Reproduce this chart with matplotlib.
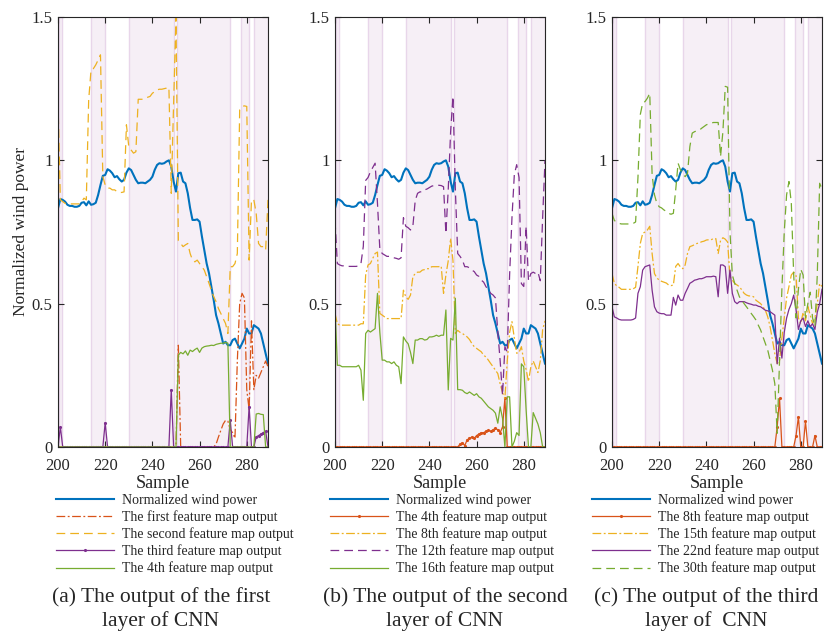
import numpy as np
import matplotlib
matplotlib.use("Agg")
import matplotlib.pyplot as plt

plt.rcParams['font.family'] = ['Liberation Serif', 'DejaVu Serif']

samples = np.arange(200, 290)

wind = [0.833, 0.865, 0.862, 0.856, 0.845, 0.841, 0.841, 0.838, 0.838, 0.841,
        0.852, 0.854, 0.843, 0.857, 0.845, 0.847, 0.852, 0.879, 0.914, 0.946,
        0.949, 0.969, 0.964, 0.955, 0.941, 0.945, 0.934, 0.926, 0.932, 0.957,
        0.972, 0.966, 0.949, 0.932, 0.920, 0.922, 0.922, 0.920, 0.926, 0.932,
        0.943, 0.967, 0.984, 0.990, 0.988, 0.990, 0.996, 1.000, 0.978, 0.926,
        0.891, 0.955, 0.957, 0.926, 0.920, 0.885, 0.833, 0.792, 0.792, 0.794,
        0.786, 0.734, 0.687, 0.640, 0.606, 0.559, 0.512, 0.460, 0.431, 0.396,
        0.361, 0.367, 0.355, 0.355, 0.373, 0.378, 0.361, 0.344, 0.361, 0.378,
        0.413, 0.396, 0.396, 0.425, 0.419, 0.413, 0.396, 0.361, 0.326, 0.291]

# (a) first layer
a_first = [0]*51 + [0.355] + [0]*15 + [0.010, 0.035, 0.058,
           0.080, 0.093, 0.090, 0.060, 0.050, 0.030, 0.300, 0.500, 0.536, 0.520,
           0.200, 0.130, 0.440, 0.200, 0.250, 0.240, 0.260, 0.280, 0.300, 0.280]
a_second = [1.205, 0.862, 0.856, 0.850, 0.848, 0.848, 0.848, 0.848, 0.848, 0.848,
            0.855, 0.868, 0.862, 1.210, 1.316, 1.320, 1.333, 1.350, 1.368, 0.943,
            0.914, 0.903, 0.903, 0.897, 0.897, 0.891, 0.888, 0.888, 0.890, 1.124,
            1.048, 1.036, 1.025, 1.030, 1.213, 1.213, 1.213, 1.217, 1.220, 1.223,
            1.234, 1.240, 1.246, 1.248, 1.248, 1.250, 1.252, 1.255, 0.885, 1.200,
            1.500, 0.720, 0.710, 0.699, 0.705, 0.710, 0.675, 0.652, 0.646, 0.652,
            0.640, 0.629, 0.617, 0.594, 0.571, 0.547, 0.524, 0.507, 0.483, 0.466,
            0.448, 0.431, 0.396, 0.629, 0.629, 0.640, 0.675, 1.176, 1.188, 1.190,
            1.188, 0.652, 0.862, 0.862, 0.815, 0.710, 0.699, 0.699, 0.687, 0.862]
a_third = [0, 0.070] + [0]*18 + [0.085] + [0]*27 + [0.200] + [0]*24 + [0.094] + \
          [0]*7 + [0.141, 0, 0, 0.035, 0.040, 0.045, 0.050, 0.055, 0]
a_fourth = [0]*51 + [0.320, 0.330, 0.325, 0.335, 0.320, 0.338, 0.333, 0.340,
            0.345, 0.330, 0.345, 0.350, 0.352, 0.353, 0.355, 0.354, 0.358, 0.360,
            0.362, 0.362, 0.365, 0.362] + [0]*11 + [0.115, 0.117, 0.114, 0.113, 0, 0]

# (b) second layer
b_fourth = [0]*53 + [0.010, 0.015, 0.005, 0.025, 0.030, 0.035, 0.030, 0.040,
            0.045, 0.050, 0.050, 0.055, 0.058, 0.055, 0.060, 0.065, 0.060, 0.050,
            0.070, 0.170] + [0]*17
b_eighth = [0.466, 0.430, 0.425, 0.425, 0.425, 0.425, 0.425, 0.425, 0.425, 0.425,
            0.425, 0.430, 0.430, 0.600, 0.635, 0.640, 0.658, 0.675, 0.680, 0.466,
            0.460, 0.454, 0.448, 0.448, 0.448, 0.448, 0.448, 0.448, 0.448, 0.547,
            0.524, 0.515, 0.530, 0.594, 0.605, 0.610, 0.610, 0.617, 0.619, 0.622,
            0.622, 0.629, 0.629, 0.629, 0.629, 0.631, 0.536, 0.600, 0.650, 0.728,
            0.650, 0.396, 0.407, 0.400, 0.396, 0.390, 0.384, 0.375, 0.361, 0.350,
            0.344, 0.338, 0.332, 0.320, 0.314, 0.303, 0.291, 0.280, 0.268, 0.256,
            0.220, 0.190, 0.170, 0.300, 0.400, 0.437, 0.380, 0.327, 0.330, 0.350,
            0.300, 0.270, 0.228, 0.280, 0.300, 0.280, 0.260, 0.300, 0.410, 0.440]
b_twelfth = [0.790, 0.640, 0.635, 0.632, 0.632, 0.630, 0.630, 0.630, 0.630, 0.630,
             0.632, 0.640, 0.700, 0.930, 0.940, 0.960, 0.975, 0.990, 0.850, 0.690,
             0.675, 0.670, 0.665, 0.665, 0.662, 0.660, 0.658, 0.655, 0.660, 0.800,
             0.770, 0.765, 0.757, 0.770, 0.860, 0.885, 0.890, 0.890, 0.897, 0.900,
             0.905, 0.910, 0.912, 0.913, 0.913, 0.912, 0.908, 0.745, 0.900, 1.100,
             1.223, 0.900, 0.675, 0.665, 0.652, 0.629, 0.629, 0.625, 0.617, 0.612,
             0.600, 0.595, 0.582, 0.575, 0.559, 0.548, 0.536, 0.530, 0.520, 0.400,
             0.300, 0.180, 0.350, 0.330, 0.600, 0.800, 0.950, 0.985, 0.940, 0.570,
             0.560, 0.770, 0.580, 0.605, 0.610, 0.605, 0.610, 0.580, 0.800, 1.000]
b_sixteenth = [0.490, 0.285, 0.285, 0.280, 0.280, 0.280, 0.280, 0.280, 0.280, 0.280,
               0.285, 0.268, 0.163, 0.396, 0.407, 0.401, 0.407, 0.413, 0.536, 0.400,
               0.303, 0.303, 0.297, 0.297, 0.291, 0.297, 0.285, 0.280, 0.221, 0.384,
               0.370, 0.360, 0.330, 0.291, 0.373, 0.373, 0.378, 0.378, 0.373, 0.375,
               0.384, 0.384, 0.386, 0.390, 0.386, 0.390, 0.390, 0.478, 0.199, 0.379,
               0.373, 0.519, 0.200, 0.200, 0.198, 0.190, 0.186, 0.192, 0.186, 0.180,
               0.186, 0.175, 0.170, 0.160, 0.150, 0.140, 0.134, 0.128, 0.118, 0.083,
               0.140, 0.100, 0.000, 0.175, 0.175, 0.000, 0.020, 0.050, 0.040, 0.290,
               0.280, 0.129, 0.000, 0.000, 0.120, 0.100, 0.080, 0.050, 0.000, 0.000]

# (c) third layer
c_eighth = [0]*70 + [0.070, 0.170] + [0]*6 + [0.040, 0.105, 0, 0, 0.090, 0, 0, 0,
            0.040, 0, 0, 0]
c_fifteenth = [0.605, 0.571, 0.562, 0.557, 0.550, 0.550, 0.550, 0.550, 0.550, 0.552,
               0.557, 0.630, 0.710, 0.745, 0.750, 0.757, 0.770, 0.675, 0.605, 0.590,
               0.582, 0.578, 0.575, 0.572, 0.565, 0.563, 0.565, 0.630, 0.640, 0.628,
               0.622, 0.635, 0.675, 0.699, 0.702, 0.706, 0.710, 0.712, 0.716, 0.718,
               0.722, 0.723, 0.723, 0.727, 0.727, 0.675, 0.720, 0.730, 0.725, 0.715,
               0.594, 0.582, 0.571, 0.565, 0.559, 0.548, 0.536, 0.530, 0.527, 0.527,
               0.524, 0.512, 0.506, 0.500, 0.489, 0.477, 0.454, 0.420, 0.373, 0.326,
               0.291, 0.300, 0.380, 0.450, 0.520, 0.560, 0.600, 0.610, 0.600, 0.450,
               0.430, 0.470, 0.440, 0.490, 0.460, 0.430, 0.450, 0.500, 0.570, 0.560]
c_twentysecond = [0.489, 0.454, 0.450, 0.445, 0.443, 0.443, 0.443, 0.443, 0.443, 0.445,
                  0.450, 0.536, 0.559, 0.617, 0.629, 0.632, 0.635, 0.547, 0.489, 0.472,
                  0.467, 0.465, 0.465, 0.460, 0.460, 0.460, 0.522, 0.495, 0.530, 0.512,
                  0.512, 0.536, 0.553, 0.571, 0.576, 0.582, 0.584, 0.587, 0.587, 0.590,
                  0.594, 0.594, 0.594, 0.596, 0.594, 0.524, 0.635, 0.635, 0.629, 0.536,
                  0.617, 0.536, 0.507, 0.500, 0.507, 0.507, 0.507, 0.503, 0.500, 0.498,
                  0.495, 0.495, 0.491, 0.489, 0.483, 0.477, 0.475, 0.472, 0.466, 0.460,
                  0.290, 0.380, 0.310, 0.400, 0.450, 0.480, 0.500, 0.530, 0.480, 0.410,
                  0.440, 0.450, 0.420, 0.440, 0.420, 0.430, 0.410, 0.470, 0.500, 0.550]
c_thirtieth = [0.815, 0.790, 0.785, 0.780, 0.778, 0.778, 0.778, 0.778, 0.778, 0.780,
               0.785, 0.940, 1.160, 1.200, 1.205, 1.217, 1.234, 0.950, 0.880, 0.850,
               0.838, 0.834, 0.827, 0.822, 0.815, 0.812, 0.815, 0.897, 0.990, 0.967,
               0.955, 0.943, 0.955, 1.048, 1.095, 1.100, 1.103, 1.105, 1.112, 1.118,
               1.124, 1.127, 1.130, 1.132, 1.132, 1.132, 1.013, 1.100, 1.258, 1.255,
               0.750, 0.600, 0.571, 0.547, 0.524, 0.512, 0.500, 0.489, 0.478, 0.466,
               0.455, 0.443, 0.425, 0.408, 0.384, 0.361, 0.338, 0.303, 0.268, 0.221,
               0.048, 0.300, 0.550, 0.750, 0.880, 0.926, 0.850, 0.600, 0.450, 0.550,
               0.620, 0.600, 0.450, 0.500, 0.540, 0.450, 0.420, 0.600, 0.920, 0.900]

span_start = [200.4, 213.9, 230.0, 250.3, 277.4, 283.1]
span_end = [201.8, 220.0, 249.0, 273.0, 280.9, 289.0]

blue, red, yellow, purple, green = '#0072BD', '#D95319', '#EDB120', '#7E2F8E', '#77AC30'
txt = '#262626'

fig = plt.figure(figsize=(8.29, 6.33), dpi=100)
lefts = [58/829, 335/829, 612/829]
width = 210/829
panels = [
    [(a_first, red, (0, (7, 2, 1.5, 2)), None, 'The first feature map output'),
     (a_second, yellow, (0, (7, 4)), None, 'The second feature map output'),
     (a_third, purple, '-', '.', 'The third feature map output'),
     (a_fourth, green, '-', None, 'The 4th feature map output')],
    [(b_fourth, red, '-', '.', 'The 4th feature map output'),
     (b_eighth, yellow, (0, (7, 2, 1.5, 2)), None, 'The 8th feature map output'),
     (b_twelfth, purple, (0, (7, 4)), None, 'The 12th feature map output'),
     (b_sixteenth, green, '-', None, 'The 16th feature map output')],
    [(c_eighth, red, '-', '.', 'The 8th feature map output'),
     (c_fifteenth, yellow, (0, (7, 2, 1.5, 2)), None, 'The 15th feature map output'),
     (c_twentysecond, purple, '-', None, 'The 22nd feature map output'),
     (c_thirtieth, green, (0, (7, 4)), None, 'The 30th feature map output')],
]
captions = ['(a) The output of the first\nlayer of CNN',
            '(b) The output of the second\nlayer of CNN',
            '(c) The output of the third\nlayer of  CNN']
legend_x = [56/829, 330/829, 592/829]
caption_x = [161/829, 445/829, 706/829]

for i in range(3):
    ax = fig.add_axes([lefts[i], 1 - 447/633, width, 430/633])
    for s, e in zip(span_start, span_end):
        ax.axvspan(s, e, facecolor='#f6eff6', edgecolor='#e8d6ea', linewidth=1, zorder=0)
    ax.plot(samples, wind, color=blue, lw=1.5, label='Normalized wind power')
    for vals, c, ls, mk, lab in panels[i]:
        ax.plot(samples, vals, color=c, ls=ls, lw=0.9, marker=mk, markersize=2.5, label=lab)
    ax.set_xlim(200, 289)
    ax.set_ylim(0, 1.5)
    ax.set_xticks([200, 220, 240, 260, 280])
    ax.set_yticks([0, 0.5, 1, 1.5])
    ax.set_yticklabels(['0', '0.5', '1', '1.5'])
    ax.tick_params(direction='in', length=4, top=True, right=True, labelsize=12,
                   colors=txt)
    ax.tick_params(axis='x', pad=8)
    ax.tick_params(axis='y', pad=4)
    for sp in ax.spines.values():
        sp.set_color(txt)
        sp.set_linewidth(0.8)
    ax.set_xlabel('Sample', fontsize=13, color=txt, labelpad=1)
    if i == 0:
        ax.set_ylabel('Normalized wind power', fontsize=12.5, color=txt, labelpad=2)
    ax.legend(loc='upper left', bbox_to_anchor=(legend_x[i], 1 - 494/633),
              bbox_transform=fig.transFigure, frameon=False, fontsize=10,
              handlelength=4.2, handletextpad=0.55, labelspacing=0.24,
              borderpad=0, borderaxespad=0, labelcolor=txt)
    fig.text(caption_x[i], 1 - 609/633, captions[i], ha='center', va='center',
             fontsize=15.5, color=txt, linespacing=1.25)

plt.savefig('out.png', dpi=100)
